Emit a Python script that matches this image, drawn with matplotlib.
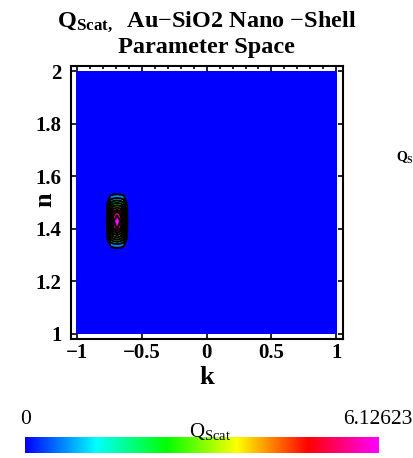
import numpy as np
import matplotlib
matplotlib.use("Agg")
import matplotlib.pyplot as plt
from matplotlib.colors import LinearSegmentedColormap

plt.rcParams['font.family'] = ['Liberation Serif', 'DejaVu Serif']
plt.rcParams['mathtext.fontset'] = 'custom'
plt.rcParams['mathtext.rm'] = 'Liberation Serif'
plt.rcParams['mathtext.it'] = 'Liberation Serif'
plt.rcParams['mathtext.bf'] = 'Liberation Serif:bold'

# peak region of Q_scat (rest of the k-n plane is ~0)
k_patch = [-0.78, -0.76, -0.74, -0.72, -0.69, -0.66, -0.64, -0.62, -0.60]
n_patch = [1.31, 1.34, 1.37, 1.40, 1.43, 1.46, 1.49, 1.52, 1.55]
q_patch = [
    [0, 0, 0, 0, 0, 0, 0, 0, 0],
    [0, 0.3, 0.8, 1.0, 1.1, 1.0, 0.8, 0.3, 0],
    [0, 0.9, 2.4, 3.0, 3.3, 3.0, 2.4, 0.9, 0],
    [0, 1.0, 3.6, 4.8, 5.6, 4.8, 3.6, 1.0, 0],
    [0, 1.1, 3.8, 5.4, 6.1, 5.4, 3.8, 1.1, 0],
    [0, 1.0, 3.4, 4.6, 5.2, 4.6, 3.4, 1.0, 0],
    [0, 0.9, 2.2, 2.8, 3.0, 2.8, 2.2, 0.9, 0],
    [0, 0.3, 0.8, 0.9, 1.0, 0.9, 0.8, 0.3, 0],
    [0, 0, 0, 0, 0, 0, 0, 0, 0],
]
q_max = 6.12623

k_ticks = [-1, -0.5, 0, 0.5, 1]
k_labels = ['\u22121', '\u22120.5', '0', '0.5', '1']
n_ticks = [1, 1.2, 1.4, 1.6, 1.8, 2]
n_labels = ['1', '1.2', '1.4', '1.6', '1.8', '2']

hue = LinearSegmentedColormap.from_list(
    'hue', ['#0000ff', '#00ffff', '#00ff00', '#ffff00', '#ff0000', '#ff00ff'])

# full grid: zeros with the peak patch dropped in
k_all = np.concatenate([[-1.0], k_patch, [1.0]])
n_all = np.concatenate([[1.0], n_patch, [2.0]])
Q = np.zeros((len(n_all), len(k_all)))
Q[1:-1, 1:-1] = np.array(q_patch)

fig = plt.figure(figsize=(4.13, 4.58), dpi=100)
ax = fig.add_axes([0.172, 0.260, 0.658, 0.596])

levels = np.linspace(0, q_max, 11)
band_cols = [hue(i / 9) for i in range(10)]
ax.contourf(k_all, n_all, Q, levels=levels, colors=band_cols)
ax.contour(k_all, n_all, Q, levels=levels[1:-1], colors='black', linewidths=1.5)

ax.set_xlim(-1.045, 1.05)
ax.set_ylim(0.98, 2.02)
ax.set_xticks(k_ticks)
ax.set_xticklabels(k_labels)
ax.set_yticks(n_ticks)
ax.set_yticklabels(n_labels)
ax.set_xticks(np.arange(-1, 1.01, 0.1), minor=True)
ax.tick_params(which='both', direction='in', top=True, right=True,
               labelsize=15, width=1.2)
ax.tick_params(which='major', length=3.5)
ax.tick_params(axis='x', pad=3)
ax.tick_params(axis='y', pad=7)
ax.tick_params(which='minor', length=2.5, bottom=False)
for lab in ax.get_xticklabels() + ax.get_yticklabels():
    lab.set_fontweight('bold')
for sp in ax.spines.values():
    sp.set_linewidth(1.5)

fig.text(207 / 413, 1 - 378 / 458, 'k', fontsize=19, fontweight='bold',
         ha='center', va='center')
fig.text(45 / 413, 1 - 200 / 458, 'n', fontsize=19, fontweight='bold',
         ha='center', va='center', rotation=90)

fig.text(0.5, 1 - 22 / 458, r'$\mathbf{Q_{Scat,}}$  Au$-$SiO2 Nano $-$Shell',
         ha='center', va='center', fontsize=17.5, fontweight='bold')
fig.text(0.5, 1 - 47 / 458, 'Parameter Space',
         ha='center', va='center', fontsize=17.5, fontweight='bold')

# colorbar label that the reference shows cut at the right edge
fig.text(396 / 413, 1 - 158 / 458, r'$\mathbf{Q_{Scat}}$', fontsize=10,
         ha='left', va='center')

# colour bar
cax = fig.add_axes([0.0605, 0.011, 0.855, 0.035])
cax.imshow(np.linspace(0, 1, 256)[None, :], cmap=hue, aspect='auto')
cax.axis('off')
fig.text(20 / 413, 1 - 419 / 458, '0', fontsize=15.5, ha='left', va='center')
fig.text(1.0, 1 - 419 / 458, '6.12623', fontsize=15.5, ha='right', va='center')
fig.text(210 / 413, 1 - 431 / 458, r'Q$_{\mathrm{Scat}}$', fontsize=15,
         ha='center', va='center')

fig.savefig('out.png', dpi=100)
